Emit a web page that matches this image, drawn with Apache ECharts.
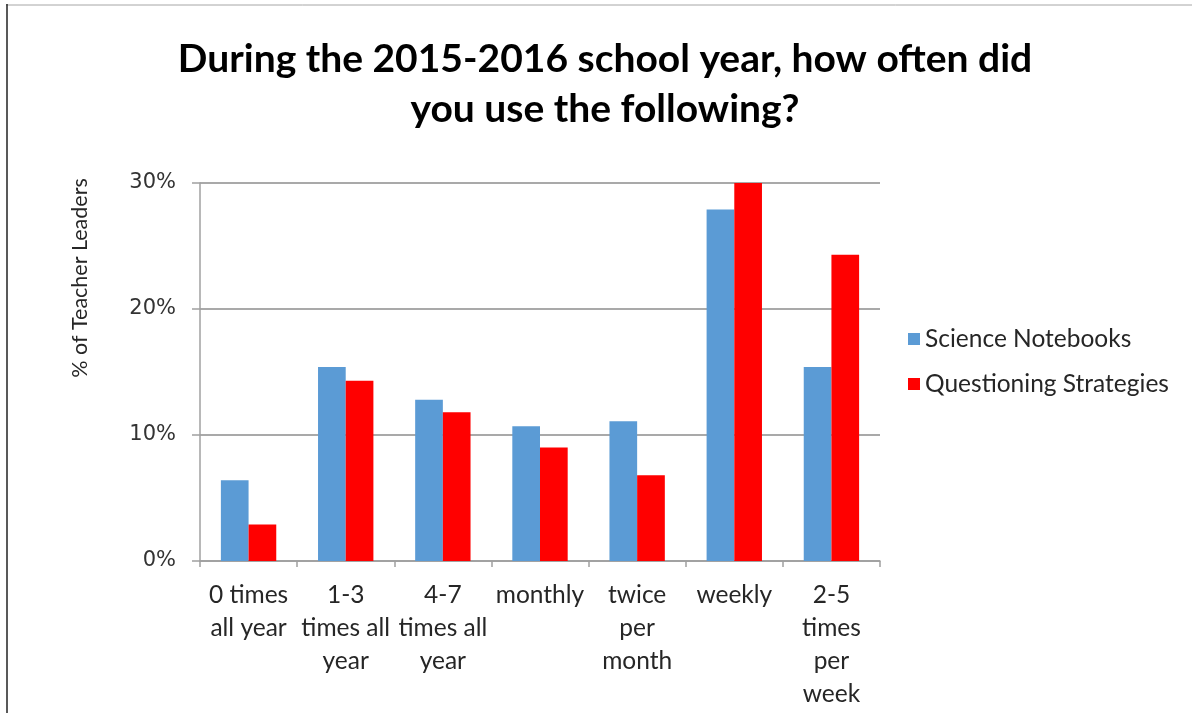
<!DOCTYPE html>
<html>
<head>
<meta charset="utf-8">
<script src="https://cdn.jsdelivr.net/npm/echarts@6/dist/echarts.min.js"></script>
<style>
html,body{margin:0;padding:0;background:#fff;}
#c{width:1192px;height:713px;}
</style>
</head>
<body>
<div id="c"></div>
<script>
const categories = ["0 times\nall year", "1-3\ntimes all\nyear", "4-7\ntimes all\nyear", "monthly", "twice\nper\nmonth", "weekly", "2-5\ntimes\nper\nweek"];
const scienceNotebooks = [6.4, 15.4, 12.8, 10.7, 11.1, 27.9, 15.4];
const questioningStrategies = [2.9, 14.3, 11.8, 9.0, 6.8, 30.0, 24.3];
const yTicks = [0, 10, 20, 30];
const titleText = "During the 2015-2016 school year, how often did\nyou use the following?";
const yName = "% of Teacher Leaders";

const chart = echarts.init(document.getElementById('c'));
chart.setOption({
  animation: false,
  backgroundColor: '#fff',
  title: {
    text: titleText,
    left: 600,
    textAlign: 'center',
    top: 29,
    textStyle: {
      fontFamily: 'Lato',
      fontWeight: 'bold',
      fontSize: 39,
      lineHeight: 50,
      color: '#000'
    }
  },
  graphic: [
    { type: 'line', shape: { x1: 6, y1: 5, x2: 1192, y2: 5 }, style: { stroke: '#a6a6a6', lineWidth: 1 } },
    { type: 'line', shape: { x1: 7, y1: 4, x2: 7, y2: 713 }, style: { stroke: '#222', lineWidth: 1.5 } },
    {
      type: 'text',
      x: 80, y: 278,
      rotation: Math.PI / 2,
      style: {
        text: yName,
        fontFamily: 'Lato',
        fontSize: 21.5,
        fill: '#262626',
        align: 'center',
        verticalAlign: 'middle'
      }
    }
  ],
  legend: {
    orient: 'vertical',
    left: 903,
    top: 321,
    itemWidth: 12,
    itemHeight: 12,
    itemGap: 19,
    icon: 'rect',
    textStyle: { fontFamily: 'Lato', fontSize: 24.5, lineHeight: 26, color: '#262626' },
    data: ['Science Notebooks', 'Questioning Strategies']
  },
  grid: { left: 200, right: 312, top: 183, bottom: 152, containLabel: false },
  xAxis: {
    type: 'category',
    data: categories,
    axisLine: { lineStyle: { color: '#a0a0a0', width: 1.5 } },
    axisTick: { show: true, alignWithLabel: false, length: 6, lineStyle: { color: '#a0a0a0', width: 1.5 } },
    axisLabel: {
      interval: 0,
      margin: 18,
      fontFamily: 'Lato',
      fontSize: 24.5,
      lineHeight: 33,
      color: '#262626'
    }
  },
  yAxis: {
    type: 'value',
    min: 0,
    max: 30,
    interval: 10,
    axisLine: { show: true, lineStyle: { color: '#a0a0a0', width: 1.5 } },
    axisTick: { show: true, length: 8, lineStyle: { color: '#a0a0a0', width: 1.5 } },
    splitLine: { lineStyle: { color: '#8c8c8c', width: 1.5 } },
    axisLabel: {
      margin: 24,
      fontFamily: 'DejaVu Sans',
      fontSize: 21,
      color: '#333',
      formatter: function (v) { return yTicks.indexOf(v) >= 0 ? v + '%' : ''; }
    }
  },
  series: [
    {
      name: 'Science Notebooks',
      type: 'bar',
      data: scienceNotebooks,
      barGap: '0%',
      barCategoryGap: '43%',
      itemStyle: { color: '#5b9bd5' }
    },
    {
      name: 'Questioning Strategies',
      type: 'bar',
      data: questioningStrategies,
      barGap: '0%',
      barCategoryGap: '43%',
      itemStyle: { color: '#ff0000' }
    }
  ]
});
</script>
</body>
</html>
